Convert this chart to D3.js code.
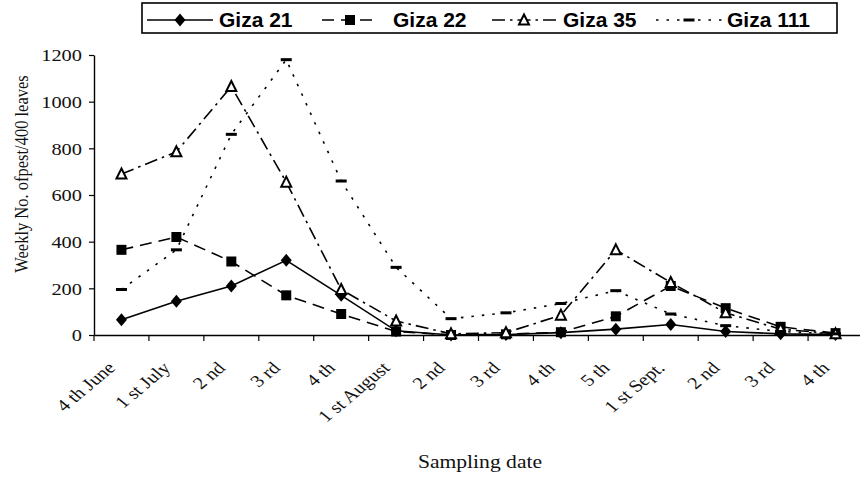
<!DOCTYPE html>
<html>
<head>
<meta charset="utf-8">
<script src="https://cdn.jsdelivr.net/npm/d3@7"></script>
<style>
  html, body { margin: 0; padding: 0; background: #fff; }
  svg { display: block; }
</style>
</head>
<body>
<svg id="chart" width="860" height="483"></svg>
<script>
// Sampling dates (weekly)
const categories = ["4 th June", "1 st July", "2 nd", "3 rd", "4 th", "1 st August", "2 nd",
                    "3 rd", "4 th", "5 th", "1 st Sept.", "2 nd", "3 rd", "4 th"];

// Weekly number of pests per 400 leaves for each variety
const giza21  = [65, 145, 210, 320, 170, 18, 0, 2, 10, 25, 45, 15, 5, 2];
const giza22  = [365, 420, 315, 170, 90, 15, 0, 3, 12, 80, 210, 115, 35, 8];
const giza35  = [690, 785, 1065, 655, 195, 60, 5, 10, 85, 365, 225, 95, 25, 5];
const giza111 = [195, 365, 860, 1180, 660, 290, 70, 95, 135, 190, 90, 40, 15, 5];

const yTicks = [0, 200, 400, 600, 800, 1000, 1200];

const seriesNames = ["Giza 21", "Giza 22", "Giza 35", "Giza 111"];

const svg = d3.select("#chart");
const serif = "'Liberation Serif', 'DejaVu Serif', serif";
const sans = "'Liberation Sans', Arial, sans-serif";
const stretch = 1.2; // serif labels are set slightly wide

const x = d3.scaleBand().domain(d3.range(categories.length)).range([94, 863]);
const y = d3.scaleLinear().domain([0, 1200]).range([335, 55]);

// Y axis
const yAxis = d3.axisLeft(y).tickValues(yTicks).tickSize(5).tickSizeOuter(0).tickFormat(d3.format("d"));
const gy = svg.append("g").attr("transform", "translate(94,0)").call(yAxis);
gy.select(".domain").attr("stroke", "#000").attr("stroke-width", 1.4);
gy.selectAll(".tick line").attr("stroke-width", 1.2);
gy.selectAll(".tick text").remove();
gy.selectAll(".tick").append("text")
  .attr("transform", `translate(-12,0) scale(${stretch},1)`)
  .attr("dy", "0.34em")
  .attr("text-anchor", "end")
  .attr("font-family", serif).attr("font-size", 17).attr("fill", "#111")
  .text(d => d3.format("d")(d));

// X axis line
const xAxis = d3.axisBottom(x).tickSize(0).tickFormat("");
const gx = svg.append("g").attr("transform", "translate(0,335)").call(xAxis);
gx.select(".domain").attr("stroke", "#000").attr("stroke-width", 1.4);
gx.selectAll(".tick").remove();

// Tick marks between categories
const bounds = d3.range(categories.length + 1).map(i => x.range()[0] + i * x.step());
svg.append("g").selectAll("line").data(bounds).join("line")
  .attr("x1", d => d).attr("x2", d => d).attr("y1", 335).attr("y2", 341)
  .attr("stroke", "#000").attr("stroke-width", 1.2);

const cx = i => x(i) + x.bandwidth() / 2;

// Rotated category labels
svg.append("g").selectAll("text").data(categories).join("text")
  .attr("transform", (d, i) => `translate(${cx(i) - 5},369) scale(${stretch},1) rotate(-45)`)
  .attr("text-anchor", "end")
  .attr("font-family", serif).attr("font-size", 17).attr("fill", "#111")
  .text(d => d);

// Axis titles
svg.append("text")
  .attr("transform", `translate(28,174) scale(${stretch},1) rotate(-90)`)
  .attr("text-anchor", "middle")
  .attr("font-family", serif).attr("font-size", 16.5).attr("fill", "#111")
  .text("Weekly No. ofpest/400 leaves");

svg.append("text")
  .attr("transform", `translate(480,468) scale(${stretch},1)`)
  .attr("text-anchor", "middle")
  .attr("font-family", serif).attr("font-size", 18).attr("fill", "#111")
  .text("Sampling date");

// Series styling
const styles = [
  { data: giza21,  dash: null,          marker: "diamond" },
  { data: giza22,  dash: "12,7",        marker: "square" },
  { data: giza35,  dash: "13,5,2.5,5",  marker: "triangle" },
  { data: giza111, dash: "2.5,8",       marker: "bar" }
];

const line = d3.line().x((d, i) => cx(i)).y(d => y(d));

function drawMarker(g, type, px, py) {
  if (type === "diamond") {
    g.append("path").attr("d", "M0,-6.5L5.5,0L0,6.5L-5.5,0Z")
      .attr("transform", `translate(${px},${py})`).attr("fill", "#000");
  } else if (type === "square") {
    g.append("rect").attr("x", px - 5).attr("y", py - 5).attr("width", 10).attr("height", 10)
      .attr("fill", "#000");
  } else if (type === "triangle") {
    g.append("path").attr("d", "M0,-5.5L5,4.5L-5,4.5Z")
      .attr("transform", `translate(${px},${py})`)
      .attr("fill", "#fff").attr("stroke", "#000").attr("stroke-width", 2);
  } else {
    g.append("rect").attr("x", px - 5.5).attr("y", py - 1.5).attr("width", 11).attr("height", 3)
      .attr("fill", "#000");
  }
}

const plot = svg.append("g");
styles.forEach(s => {
  plot.append("path").datum(s.data)
    .attr("d", line).attr("fill", "none").attr("stroke", "#000")
    .attr("stroke-width", 1.6)
    .attr("stroke-dasharray", s.dash);
});
styles.forEach(s => {
  const g = plot.append("g");
  s.data.forEach((v, i) => drawMarker(g, s.marker, cx(i), y(v)));
});

// Legend
const legend = svg.append("g");
legend.append("rect").attr("x", 142).attr("y", 3).attr("width", 695).attr("height", 30)
  .attr("fill", "#fff").attr("stroke", "#000").attr("stroke-width", 1.6);

const legendItems = [
  { x1: 147, x2: 213, tx: 219 },
  { x1: 322, x2: 378, tx: 393 },
  { x1: 492, x2: 556, tx: 563 },
  { x1: 656, x2: 722, tx: 727 }
];
legendItems.forEach((it, k) => {
  const s = styles[k];
  legend.append("line").attr("x1", it.x1).attr("x2", it.x2).attr("y1", 20).attr("y2", 20)
    .attr("stroke", "#000").attr("stroke-width", 1.6).attr("stroke-dasharray", s.dash);
  drawMarker(legend, s.marker, (it.x1 + it.x2) / 2, 20);
  legend.append("text").attr("x", it.tx).attr("y", 27)
    .attr("font-family", sans).attr("font-weight", "bold").attr("font-size", 21)
    .attr("fill", "#000").text(seriesNames[k]);
});
</script>
</body>
</html>
